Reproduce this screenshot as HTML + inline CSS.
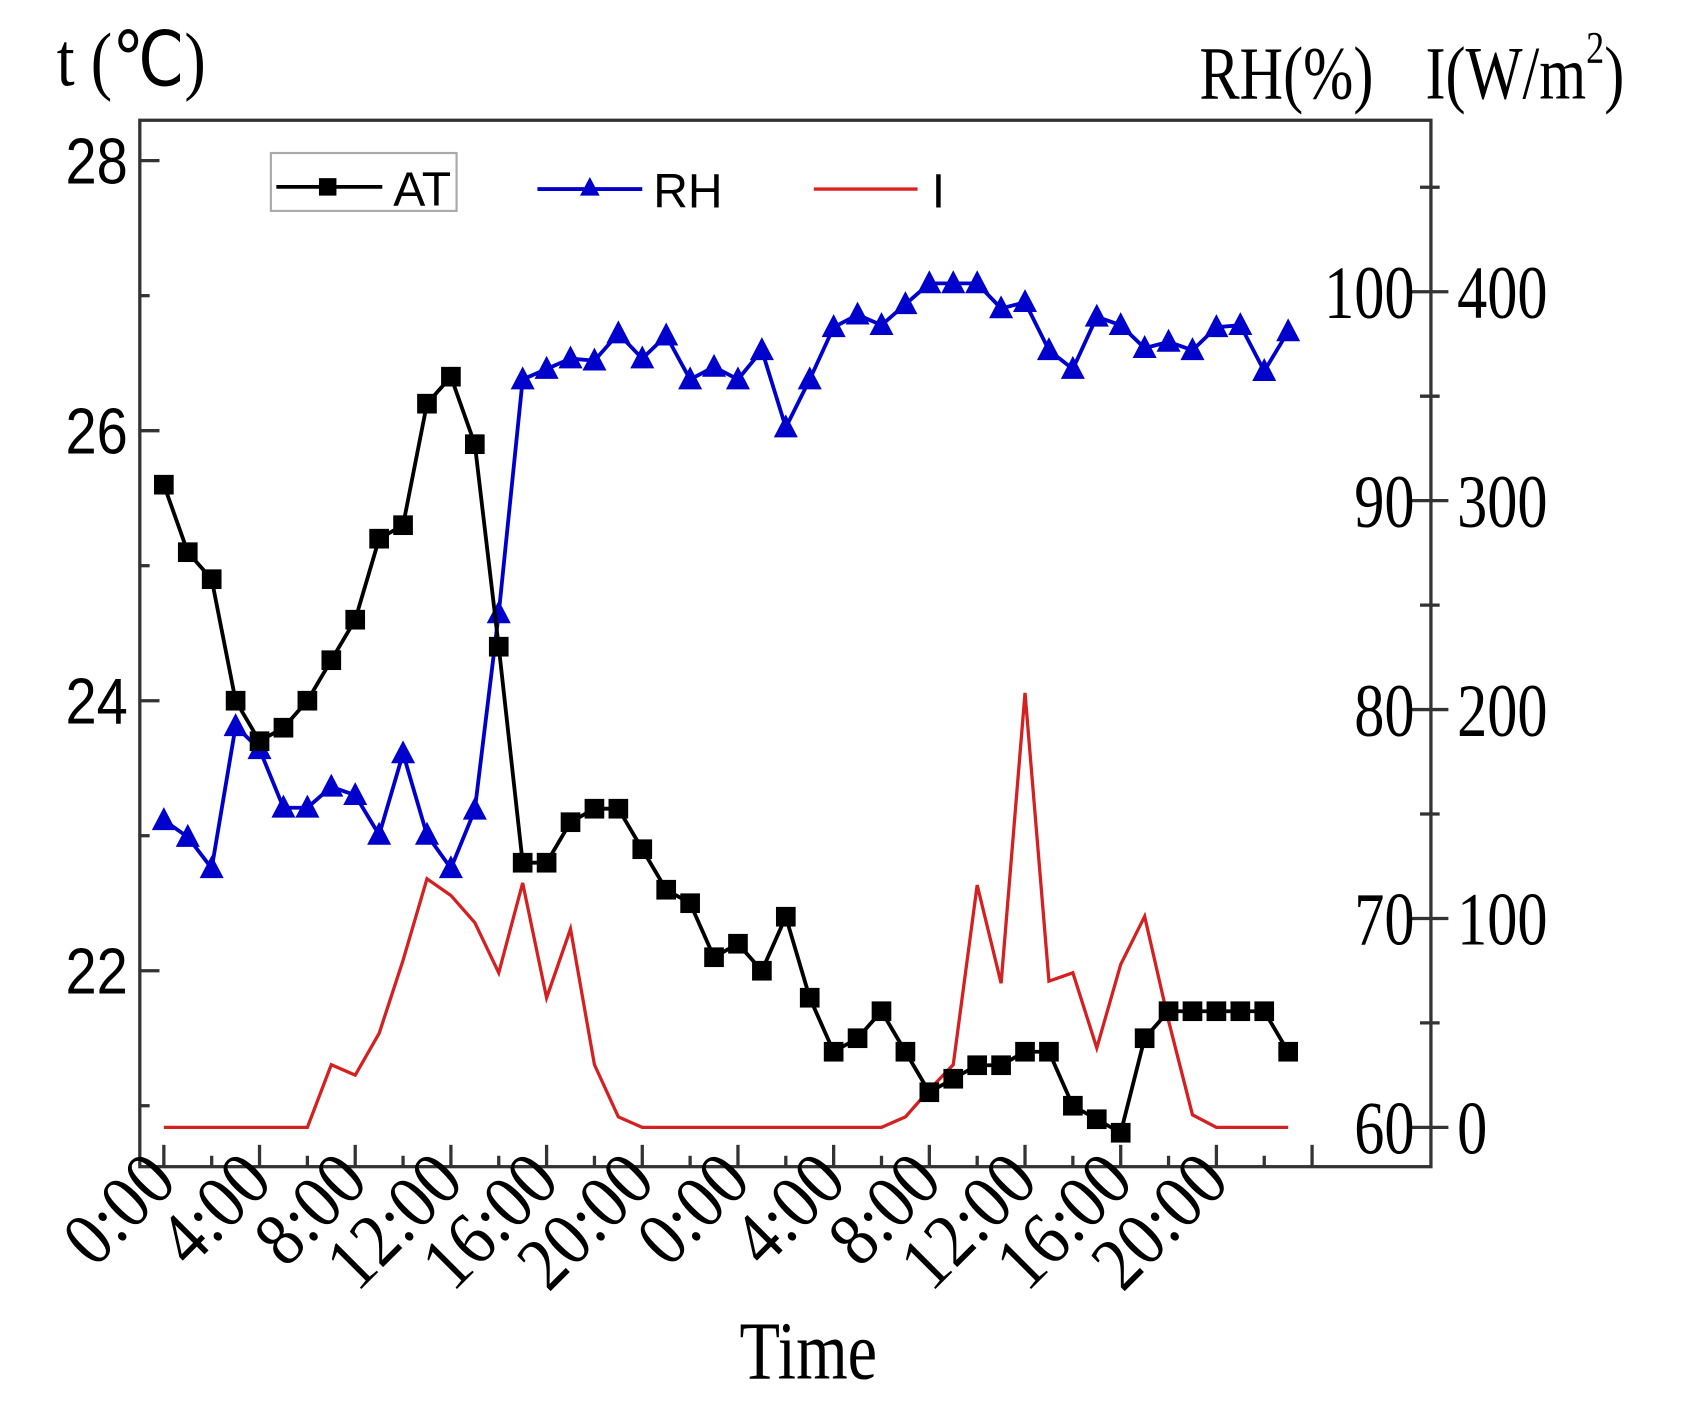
<!DOCTYPE html>
<html><head><meta charset="utf-8"><style>
html,body{margin:0;padding:0;background:#fff;}
svg{display:block;}
.serif{font-family:"Liberation Serif",serif;}
.sans{font-family:"Liberation Sans",sans-serif;}
</style></head><body>
<svg id="chart" width="1704" height="1406" viewBox="0 0 1560 1287" xmlns="http://www.w3.org/2000/svg">
<rect x="0" y="0" width="1560" height="1287" fill="#fff"/>
<rect x="128" y="110" width="1182" height="958" fill="none" stroke="#333" stroke-width="3"/>
<text class="serif" x="52" y="78" font-size="62" transform="translate(52 78) scale(0.95 1.12) translate(-52 -78)">t (℃)</text>
<text class="serif" x="1098" y="90" font-size="60" transform="translate(1098 90) scale(0.92 1.15) translate(-1098 -90)">RH(%)</text>
<text class="serif" x="1305" y="90" font-size="60" transform="translate(1305 90) scale(0.92 1.15) translate(-1305 -90)">I(W/m<tspan font-size="36" dy="-28">2</tspan><tspan dy="28">)</tspan></text>
<text class="serif" x="740" y="1262" font-size="66" text-anchor="middle" transform="translate(740 1262) scale(0.92 1.15) translate(-740 -1262)">Time</text>
<g id="axes"></g>
<g id="series"></g>
<g>
<rect x="248" y="140" width="170" height="53" fill="none" stroke="#aaa" stroke-width="2"/>
<line x1="253" y1="171" x2="350" y2="171" stroke="#000" stroke-width="3.5"/>
<rect x="292" y="163" width="16" height="16" fill="#000"/>
<text class="sans" x="360" y="188" font-size="44">AT</text>
<line x1="492" y1="173" x2="588" y2="173" stroke="#00c" stroke-width="3.5"/>
<polygon points="540,162 549,179 531,179" fill="#00c"/>
<text class="sans" x="598" y="190" font-size="44">RH</text>
<line x1="745" y1="173" x2="840" y2="173" stroke="#d22" stroke-width="3"/>
<text class="sans" x="853" y="190" font-size="44">I</text>
</g>
</svg>
<script>
const hours = [0,1,2,3,4,5,6,7,8,9,10,11,12,13,14,15,16,17,18,19,20,21,22,23,24,25,26,27,28,29,30,31,32,33,34,35,36,37,38,39,40,41,42,43,44,45,46,47];
const atValues = [25.6,25.1,24.9,24.0,23.7,23.8,24.0,24.3,24.6,25.2,25.3,26.2,26.4,25.9,24.4,22.8,22.8,23.1,23.2,23.2,22.9,22.6,22.5,22.1,22.2,22.0,22.4,21.8,21.4,21.5,21.7,21.4,21.1,21.2,21.3,21.3,21.4,21.4,21.0,20.9,20.8,21.5,21.7,21.7,21.7,21.7,21.7,21.4];
const rhValues = [74.7,73.9,72.4,79.2,78.1,75.3,75.3,76.3,75.9,74.0,77.9,74.0,72.4,75.2,84.6,95.8,96.3,96.8,96.7,98.0,96.8,97.9,95.8,96.4,95.8,97.2,93.5,95.8,98.3,98.9,98.4,99.4,100.4,100.4,100.4,99.2,99.5,97.2,96.3,98.8,98.4,97.3,97.6,97.2,98.3,98.4,96.2,98.1];
const iValues = [0,0,0,0,0,0,0,30,25,45,80,119,111,98,74,117,62,95,30,5,0,0,0,0,0,0,0,0,0,0,0,5,18,30,116,69,208,70,74,38,78,101,51,6,0,0,0,0];
const xTickLabels = ["0:00","4:00","8:00","12:00","16:00","20:00","0:00","4:00","8:00","12:00","16:00","20:00"];
const tTicks = [22,24,26,28];
const rhTicks = [60,70,80,90,100];
const iTicks = [0,100,200,300,400];

const NS = "http://www.w3.org/2000/svg";
const X = h => 150 + 21.9*h;
const YT = t => 147 + (28 - t)*123.6;
const YRH = r => 1032 - (r - 60)*19.125;
const YI = i => 1032 - i*1.9125;
function mk(tag, attrs, parent){const e=document.createElementNS(NS,tag);for(const k in attrs)e.setAttribute(k,attrs[k]);parent.appendChild(e);return e;}
const axes=document.getElementById('axes');
const series=document.getElementById('series');

for(let t=21;t<=28;t++){
  const y=YT(t); if(y>1068) continue;
  const major = t%2===0;
  const l=mk('line',{x1:128,y1:y,x2:128+(major?18:9),y2:y,stroke:'#333','stroke-width':3},axes);
  
  
}
tTicks.forEach(t=>{
  const y=YT(t)+21;
  const tx=mk('text',{x:117,y:y,'font-size':54,'text-anchor':'end',class:'sans',transform:`translate(117 ${y}) scale(0.95 1.1) translate(-117 ${-y})`},axes);
  tx.textContent=t;
  
  
});
for(let r=60;r<=105;r+=5){
  const y=YRH(r); const major=r%10===0;
  const l=mk('line',{x1:major?1292:1300,y1:y,x2:major?1326:1318,y2:y,stroke:'#333','stroke-width':3},axes);
  
  
}
rhTicks.forEach(r=>{
  const y=YRH(r)+24;
  const tx=mk('text',{x:1295,y:y,'font-size':60,'text-anchor':'end',class:'serif',transform:`translate(1295 ${y}) scale(0.92 1.15) translate(-1295 ${-y})`},axes);
  tx.textContent=r;
  
  
});
iTicks.forEach(i=>{
  const y=YI(i)+24;
  const tx=mk('text',{x:1334,y:y,'font-size':60,'text-anchor':'start',class:'serif',transform:`translate(1334 ${y}) scale(0.92 1.15) translate(-1334 ${-y})`},axes);
  tx.textContent=i;
  
  
});
for(let h=0;h<=48;h+=2){
  const x=X(h); if(x>1305) continue;
  const major=h%4===0;
  const l=mk('line',{x1:x,y1:1068,x2:x,y2:1068-(major?20:10),stroke:'#333','stroke-width':3},axes);
  
  
}
xTickLabels.forEach((s,k)=>{
  const x=X(k*4)+14, y=1084;
  const tx=mk('text',{x:x,y:y,'font-size':62,'text-anchor':'end',class:'serif',transform:`rotate(-45 ${x} ${y}) translate(${x} ${y}) scale(1 1.12) translate(${-x} ${-y})`},axes);
  tx.textContent=s;
  
  
});

const iLine=mk('polyline',{points:hours.map((h,k)=>X(h)+','+YI(iValues[k])).join(' '),fill:'none',stroke:'#d42020','stroke-width':3},series);


const rhLine=mk('polyline',{points:hours.map((h,k)=>X(h)+','+YRH(rhValues[k])).join(' '),fill:'none',stroke:'#0000cc','stroke-width':3.5},series);


hours.forEach((h,k)=>{
  const x=X(h),y=YRH(rhValues[k]);
  const p=mk('polygon',{points:`${x},${y-12} ${x+11},${y+9} ${x-11},${y+9}`,fill:'#0000cc'},series);
  
  
});
const atLine=mk('polyline',{points:hours.map((h,k)=>X(h)+','+YT(atValues[k])).join(' '),fill:'none',stroke:'#000','stroke-width':3.5},series);


hours.forEach((h,k)=>{
  const x=X(h),y=YT(atValues[k]);
  const r=mk('rect',{x:x-9,y:y-9,width:18,height:18,fill:'#000'},series);
  
  
});
</script>
</body></html>
